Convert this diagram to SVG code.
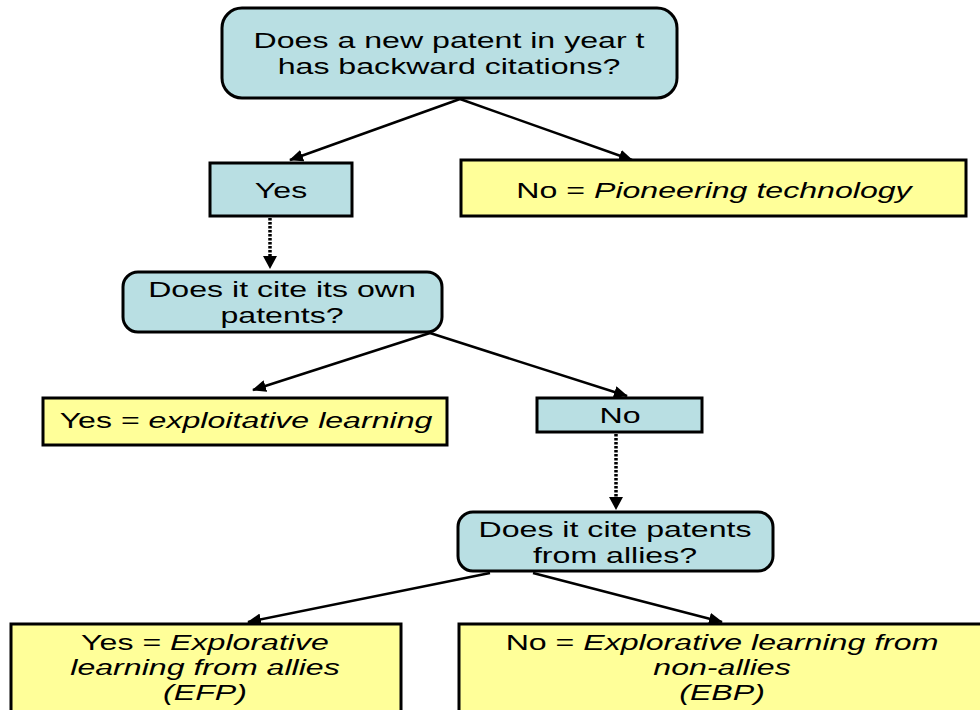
<svg xmlns="http://www.w3.org/2000/svg" width="980" height="710" viewBox="0 0 980 710">
<style>
.q{fill:#B9DFE3;stroke:#000;stroke-width:3}
.a{fill:#FFFF99;stroke:#000;stroke-width:3}
.t{font-family:"Liberation Sans",Arial,sans-serif;font-size:22px;fill:#000;text-anchor:middle}
.i{font-style:italic}
.c{fill:none;stroke:#000;stroke-width:2.5}
.d{fill:none;stroke:#000;stroke-width:3.5;stroke-dasharray:2.5 1.5}
</style>
<defs>
<marker id="ah" viewBox="0 0 14 12" refX="13" refY="6" markerWidth="14" markerHeight="12" markerUnits="userSpaceOnUse" orient="auto">
<path d="M0,0 L14,6 L0,12 Z" fill="#000"/>
</marker>
</defs>
<rect width="980" height="710" fill="#fff"/>
<g id="connectors">
<line class="c" x1="460" y1="99" x2="290" y2="160" marker-end="url(#ah)"/>
<line class="c" x1="460" y1="99" x2="632" y2="160" marker-end="url(#ah)"/>
<line class="d" x1="270" y1="218" x2="270" y2="256"/>
<path d="M263,256 L277,256 L270,269 Z" fill="#000"/>
<line class="c" x1="430" y1="333" x2="253" y2="390" marker-end="url(#ah)"/>
<line class="c" x1="430" y1="333" x2="627" y2="396" marker-end="url(#ah)"/>
<line class="d" x1="616" y1="434" x2="616" y2="497"/>
<path d="M609,497 L623,497 L616,510 Z" fill="#000"/>
<line class="c" x1="490" y1="573" x2="248" y2="622" marker-end="url(#ah)"/>
<line class="c" x1="533" y1="573" x2="722" y2="622" marker-end="url(#ah)"/>
</g>
<g id="q1">
<rect class="q" x="222" y="8" width="455" height="90" rx="20"/>
<text class="t" transform="translate(449,48) scale(1.46,1)"><tspan x="0" y="0">Does a new patent in year t</tspan><tspan x="0" y="26">has backward citations?</tspan></text>
</g>
<g id="yes1">
<rect class="q" x="210" y="163" width="142" height="53"/>
<text class="t" transform="translate(281,198) scale(1.46,1)">Yes</text>
</g>
<g id="no1">
<rect class="a" x="461" y="160" width="505" height="56"/>
<text class="t" transform="translate(714,198) scale(1.46,1)">No = <tspan class="i">Pioneering technology</tspan></text>
</g>
<g id="q2">
<rect class="q" x="123" y="272" width="319" height="60" rx="15"/>
<text class="t" transform="translate(282,297) scale(1.46,1)"><tspan x="0" y="0">Does it cite its own</tspan><tspan x="0" y="26">patents?</tspan></text>
</g>
<g id="yes2">
<rect class="a" x="43" y="398" width="404" height="47"/>
<text class="t" transform="translate(246,428) scale(1.46,1)">Yes = <tspan class="i">exploitative learning</tspan></text>
</g>
<g id="no2">
<rect class="q" x="537" y="398" width="165" height="34"/>
<text class="t" transform="translate(620,423) scale(1.46,1)">No</text>
</g>
<g id="q3">
<rect class="q" x="458" y="512" width="315" height="59" rx="15"/>
<text class="t" transform="translate(615,537) scale(1.46,1)"><tspan x="0" y="0">Does it cite patents</tspan><tspan x="0" y="26">from allies?</tspan></text>
</g>
<g id="yes3">
<rect class="a" x="11" y="624" width="390" height="100"/>
<text class="t" transform="translate(205,650) scale(1.46,1)"><tspan x="0" y="0">Yes = <tspan class="i">Explorative</tspan></tspan><tspan class="i" x="0" y="25">learning from allies</tspan><tspan class="i" x="0" y="50">(EFP)</tspan></text>
</g>
<g id="no3">
<rect class="a" x="459" y="624" width="540" height="100"/>
<text class="t" transform="translate(722,650) scale(1.46,1)"><tspan x="0" y="0">No = <tspan class="i">Explorative learning from</tspan></tspan><tspan class="i" x="0" y="25">non-allies</tspan><tspan class="i" x="0" y="50">(EBP)</tspan></text>
</g>
</svg>
